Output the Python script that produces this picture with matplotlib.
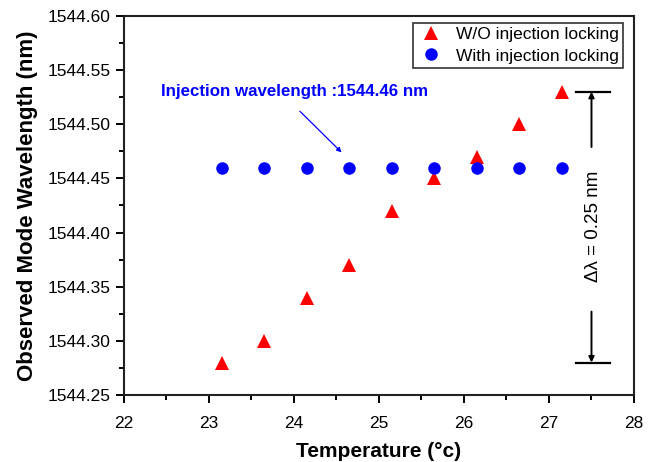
import matplotlib
matplotlib.use("Agg")
import matplotlib.pyplot as plt
import matplotlib.ticker as plticker

plt.rcParams['font.family'] = ['Liberation Sans', 'DejaVu Sans']

temperature = [23.15, 23.65, 24.15, 24.65, 25.15, 25.65, 26.15, 26.65, 27.15]
wl_free = [1544.28, 1544.30, 1544.34, 1544.37, 1544.42, 1544.45, 1544.47, 1544.50, 1544.53]
wl_locked = [1544.46, 1544.46, 1544.46, 1544.46, 1544.46, 1544.46, 1544.46, 1544.46, 1544.46]
injection_wl = 1544.46
delta_top = 1544.53
delta_bottom = 1544.28

fig = plt.figure(figsize=(6.54, 4.62), dpi=100)
ax = fig.add_axes([0.1896, 0.145, 0.7798, 0.8204])

ax.plot(temperature, wl_free, '^', color='#FF0000', markersize=10,
        markeredgewidth=0, label='W/O injection locking')
ax.plot(temperature, wl_locked, 'o', color='#0000FF', markersize=9,
        markeredgewidth=0, label='With injection locking')

ax.set_xlim(22, 28)
ax.set_ylim(1544.25, 1544.60)

# injection wavelength note
ax.text(22.43, 1544.53, 'Injection wavelength :%.2f nm' % injection_wl,
        color='#0000FF', fontsize=12.2, fontweight='bold', va='center', ha='left')
ax.annotate('', xy=(24.56, 1544.474), xytext=(24.07, 1544.512),
            arrowprops=dict(arrowstyle='-|>', color='#0000FF', lw=0.9,
                            mutation_scale=7, shrinkA=0, shrinkB=0))

# delta lambda bracket
ax.plot([27.32, 27.72], [delta_top, delta_top], '-', color='k', lw=1.6)
ax.plot([27.32, 27.72], [delta_bottom, delta_bottom], '-', color='k', lw=1.6)
ax.annotate('', xy=(27.5, delta_top), xytext=(27.5, 1544.479),
            arrowprops=dict(arrowstyle='-|>', color='k', lw=1.4,
                            mutation_scale=8, shrinkA=0, shrinkB=0))
ax.annotate('', xy=(27.5, delta_bottom), xytext=(27.5, 1544.327),
            arrowprops=dict(arrowstyle='-|>', color='k', lw=1.4,
                            mutation_scale=8, shrinkA=0, shrinkB=0))
ax.text(27.52, (delta_top + delta_bottom) / 2 + 0.001,
        'Δλ = %.2f nm' % (delta_top - delta_bottom),
        rotation=90, fontsize=13.5, ha='center', va='center')

ax.set_xlabel('Temperature (°c)', fontsize=15, fontweight='bold', labelpad=8)
ax.set_ylabel('Observed Mode Wavelength (nm)', fontsize=16, fontweight='bold', labelpad=7)

ax.xaxis.set_major_locator(plticker.MultipleLocator(1))
ax.xaxis.set_minor_locator(plticker.MultipleLocator(0.5))
ax.yaxis.set_major_locator(plticker.MultipleLocator(0.05))
ax.yaxis.set_minor_locator(plticker.MultipleLocator(0.025))
ax.yaxis.set_major_formatter(plticker.FormatStrFormatter('%.2f'))
ax.tick_params(which='both', direction='out', width=1.4, top=False, right=False)
ax.tick_params(which='major', length=6, labelsize=12.5)
ax.tick_params(which='minor', length=3.5)
ax.tick_params(axis='x', which='major', pad=9)

for s in ax.spines.values():
    s.set_linewidth(1.5)
    s.set_color('#222222')

leg = ax.legend(loc='upper right', bbox_to_anchor=(0.978, 0.982),
                fontsize=12.5, frameon=True, fancybox=False,
                edgecolor='k', handletextpad=0.6, borderpad=0.25,
                labelspacing=0.35, handlelength=1.6, borderaxespad=0)
leg.get_frame().set_linewidth(1.2)

fig.savefig('out.png', dpi=100)
